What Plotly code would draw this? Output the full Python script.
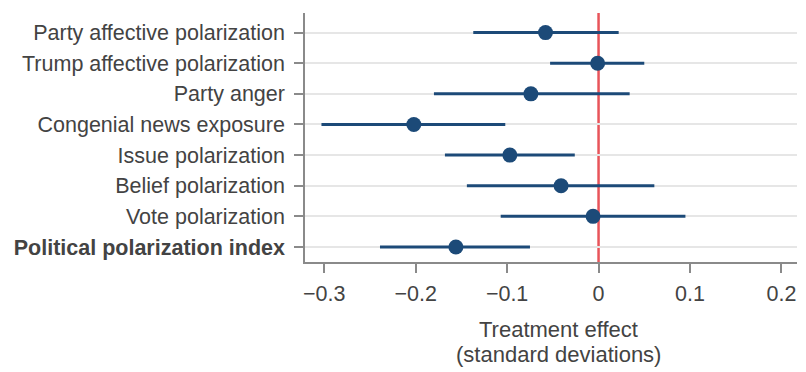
import plotly.graph_objects as go

categories = [
    "Party affective polarization",
    "Trump affective polarization",
    "Party anger",
    "Congenial news exposure",
    "Issue polarization",
    "Belief polarization",
    "Vote polarization",
    "Political polarization index",
]
estimates = [-0.058, -0.001, -0.074, -0.202, -0.097, -0.041, -0.006, -0.156]
ci_low = [-0.137, -0.053, -0.180, -0.303, -0.168, -0.144, -0.107, -0.239]
ci_high = [0.022, 0.050, 0.034, -0.102, -0.026, 0.061, 0.095, -0.075]
x_ticks = [-0.3, -0.2, -0.1, 0, 0.1, 0.2]
x_ticklabels = ["\u22120.3", "\u22120.2", "\u22120.1", "0", "0.1", "0.2"]
x_title_lines = ["Treatment effect", "(standard deviations)"]

n = len(categories)
ypos = [n - 1 - i for i in range(n)]
ticktext = [c if i < n - 1 else "<b>" + c + "</b>" for i, c in enumerate(categories)]

navy = "#1c4a78"
txt = "#434343"
fig = go.Figure()

fig.add_shape(type="line", x0=0, x1=0, xref="x", y0=0, y1=1, yref="y domain",
              line=dict(color="#e8545a", width=2.5), layer="below")

fig.add_trace(go.Scatter(
    x=estimates, y=ypos, mode="markers",
    marker=dict(size=15, color=navy),
    error_x=dict(type="data", symmetric=False,
                 array=[h - e for h, e in zip(ci_high, estimates)],
                 arrayminus=[e - l for e, l in zip(estimates, ci_low)],
                 color=navy, thickness=3, width=0),
    showlegend=False,
))

font = "Liberation Sans, Arial, Helvetica, sans-serif"
# page body has an 8px default margin, so the figure is offset by 8px
fig.update_layout(
    width=798, height=364,
    margin=dict(l=297, r=9, t=5, b=110),
    paper_bgcolor="white", plot_bgcolor="white",
    font=dict(family=font, size=21.5, color=txt),
    xaxis=dict(
        range=[-0.321, 0.217], tickvals=x_ticks, ticktext=x_ticklabels,
        showgrid=False, zeroline=False, showline=True, linecolor="#8a8a8a", linewidth=1.5,
        ticks="outside", ticklen=9, tickcolor="#8a8a8a", tickwidth=1.5,
        ticklabelstandoff=2,
    ),
    yaxis=dict(
        range=[-0.49, 7.64], tickvals=ypos, ticktext=ticktext,
        showgrid=True, gridcolor="#e6e6e6", gridwidth=1.5, zeroline=False,
        showline=True, linecolor="#8a8a8a", linewidth=1.5,
        ticks="outside", ticklen=9, tickcolor="#8a8a8a", tickwidth=1.5,
        ticklabelstandoff=5,
    ),
)

for line, ypx in zip(x_title_lines, [-0.273, -0.373]):
    fig.add_annotation(text=line, xref="paper", yref="paper", x=0.515, y=ypx,
                       xanchor="center", yanchor="middle", showarrow=False,
                       font=dict(size=22, color=txt, family=font))

fig.write_html("out.html")
